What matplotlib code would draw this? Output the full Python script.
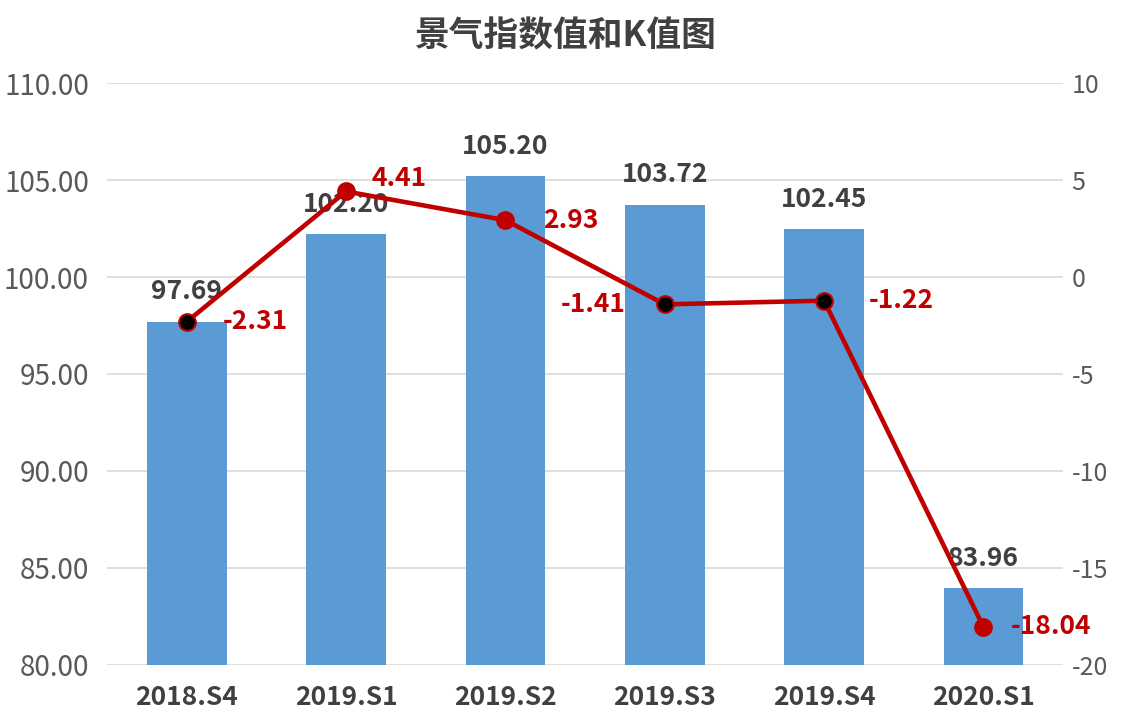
import numpy as np
import matplotlib.pyplot as plt

plt.rcParams['font.family'] = ['Noto Sans CJK SC', 'DejaVu Sans']
plt.rcParams['axes.unicode_minus'] = False

# Data
categories = ['2018.S4', '2019.S1', '2019.S2', '2019.S3', '2019.S4', '2020.S1']
index_values = [97.69, 102.20, 105.20, 103.72, 102.45, 83.96]
k_values = [-2.31, 4.41, 2.93, -1.41, -1.22, -18.04]
marker_fill = ['black', '#C00000', '#C00000', 'black', 'black', '#C00000']
# pixel offsets for the K value labels (text edge relative to marker)
k_offsets = [(36, 0), (25, 13), (38, 0), (-39, 0), (45, 0), (27, 0)]
k_align = ['left', 'left', 'left', 'right', 'left', 'left']

BAR_COLOR = '#5B9BD5'
LINE_COLOR = '#C00000'
TEXT_DARK = '#404040'
TICK_GRAY = '#595959'
GRID_GRAY = '#D9D9D9'

fig = plt.figure(figsize=(11.31, 7.22), dpi=100)
ax = fig.add_axes([0.0946, 0.079, 0.8454, 0.806])
ax2 = ax.twinx()

x = np.arange(len(categories))

# Bars on left axis
ax.bar(x, index_values, width=0.5, color=BAR_COLOR, zorder=2)
ax.set_ylim(80, 110)
ax.set_yticks(np.arange(80, 111, 5))
ax.set_yticklabels([f'{v:.2f}' for v in np.arange(80, 111, 5)])
ax.set_xlim(-0.5, len(categories) - 0.5)
ax.set_xticks(x)
ax.set_xticklabels(categories, fontsize=19, fontweight='bold', color=TEXT_DARK)
ax.grid(axis='y', color=GRID_GRAY, linewidth=1.2, zorder=0)
ax.set_axisbelow(True)
ax.tick_params(axis='y', length=0, labelsize=20, labelcolor=TICK_GRAY, pad=13)
ax.tick_params(axis='x', length=0, pad=14)

for xi, v in zip(x, index_values):
    ax.annotate(f'{v:.2f}', (xi, v), xytext=(0, 30), textcoords='offset pixels',
                ha='center', va='center', fontsize=19, fontweight='bold',
                color=TEXT_DARK, zorder=3)

# Line on right axis
ax2.plot(x, k_values, color=LINE_COLOR, linewidth=3.3, zorder=4)
for xi, v, fc in zip(x, k_values, marker_fill):
    ax2.plot(xi, v, 'o', markersize=12, markerfacecolor=fc,
             markeredgecolor=LINE_COLOR, markeredgewidth=1.5, zorder=5)
ax2.set_ylim(-20, 10)
ax2.set_yticks(np.arange(-20, 11, 5))
ax2.tick_params(axis='y', length=0, labelsize=18, labelcolor=TICK_GRAY, pad=6)

for xi, v, off, ha in zip(x, k_values, k_offsets, k_align):
    ax2.annotate(f'{v:.2f}', (xi, v), xytext=off, textcoords='offset pixels',
                 ha=ha, va='center', fontsize=19, fontweight='bold',
                 color=LINE_COLOR, zorder=6)

for a in (ax, ax2):
    for s in a.spines.values():
        s.set_visible(False)

fig.suptitle('景气指数值和K值图', y=0.975, fontsize=25, fontweight='bold', color=TEXT_DARK)

plt.savefig('out.png', dpi=100)
